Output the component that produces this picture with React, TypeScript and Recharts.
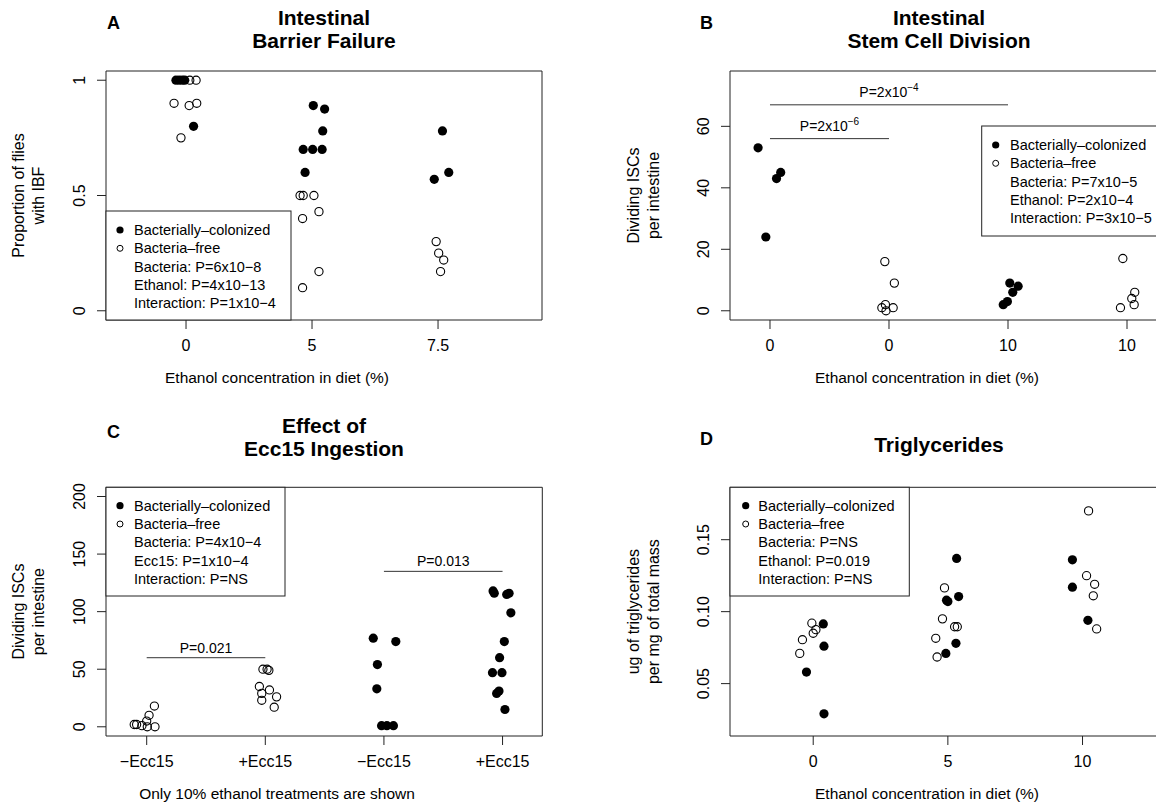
import React from 'react';
import { ScatterChart, Scatter, XAxis, YAxis, ReferenceArea, ReferenceLine } from 'recharts';

const FONT = '"Liberation Sans", Arial, Helvetica, sans-serif';

// values: [x = group position + jitter, y]
// A: intestinal barrier failure (proportion of flies with IBF)
const ibfColonized = [
  [0.92, 1], [0.945, 1], [0.97, 1], [0.99, 1], [1.06, 0.8],
  [2.01, 0.89], [2.1, 0.875], [2.085, 0.78], [1.93, 0.7], [2.005, 0.7], [2.08, 0.7], [1.945, 0.6],
  [3.035, 0.78], [3.085, 0.6], [2.97, 0.57],
];
const ibfFree = [
  [1.03, 1], [1.08, 1], [0.905, 0.9], [1.025, 0.89], [1.085, 0.9], [0.96, 0.75],
  [1.905, 0.5], [1.93, 0.5], [2.015, 0.5], [2.055, 0.43], [1.925, 0.4], [2.055, 0.17], [1.925, 0.1],
  [2.985, 0.3], [3.005, 0.25], [3.045, 0.22], [3.02, 0.17],
];

// B: dividing ISCs per intestine
const iscColonized = [
  [0.9, 53], [1.055, 43], [1.09, 45], [0.965, 24],
  [3.015, 9], [3.085, 8], [3.04, 6], [2.995, 3], [2.96, 2],
];
const iscFree = [
  [1.965, 16], [2.045, 9], [1.94, 1], [1.97, 2], [1.975, 0], [2.035, 1],
  [3.965, 17], [4.065, 6], [4.04, 4], [4.06, 2], [3.945, 1],
];

// C: effect of Ecc15 ingestion
const eccFree = [
  [0.895, 2], [0.915, 2], [0.96, 1], [1.005, 0], [1.07, 0], [1.0, 5], [1.02, 10], [1.065, 18],
  [1.98, 50], [2.015, 50], [2.03, 49], [1.95, 35], [2.035, 32], [1.97, 29], [2.095, 26], [1.97, 23], [2.075, 17],
];
const eccColonized = [
  [2.91, 77], [3.1, 74], [2.945, 54], [2.94, 33], [2.98, 1], [3.025, 1], [3.08, 1],
  [3.92, 118], [3.93, 116], [4.035, 115], [4.055, 116], [4.07, 99], [4.015, 74], [3.975, 60],
  [3.915, 47], [3.995, 47], [3.95, 29], [3.97, 31], [4.02, 15],
];

// D: triglycerides
const tgFree = [
  [0.99, 0.092], [1.0, 0.085], [1.02, 0.0875], [0.92, 0.0805], [0.9, 0.071],
  [1.975, 0.1165], [1.96, 0.095], [2.05, 0.0895], [2.07, 0.0895], [1.91, 0.0815], [1.92, 0.0685],
  [3.045, 0.17], [3.03, 0.125], [3.09, 0.119], [3.08, 0.111], [3.105, 0.088],
];
const tgColonized = [
  [1.075, 0.0915], [1.08, 0.076], [0.95, 0.058], [1.08, 0.029],
  [2.065, 0.137], [2.08, 0.1105], [2.0, 0.107], [1.99, 0.108], [2.06, 0.078], [1.985, 0.071],
  [2.925, 0.136], [2.925, 0.117], [3.04, 0.094],
];

const ethanolLabelsA = ['0', '5', '7.5'];
const ethanolLabelsB = ['0', '0', '10', '10'];
const eccLabels = ['\u2212Ecc15', '+Ecc15', '\u2212Ecc15', '+Ecc15'];
const ethanolLabelsD = ['0', '5', '10'];

const statsA = ['Bacteria: P=6x10\u22128', 'Ethanol: P=4x10\u221213', 'Interaction: P=1x10\u22124'];
const statsB = ['Bacteria: P=7x10\u22125', 'Ethanol: P=2x10\u22124', 'Interaction: P=3x10\u22125'];
const statsC = ['Bacteria: P=4x10\u22124', 'Ecc15: P=1x10\u22124', 'Interaction: P=NS'];
const statsD = ['Bacteria: P=NS', 'Ethanol: P=0.019', 'Interaction: P=NS'];

const toPoints = (arr: number[][]) => arr.map(([x, y]) => ({ x, y }));

const filledDot = (p: any) => <circle cx={p.cx} cy={p.cy} r={4.6} fill="#000" />;
const openDot = (p: any) => <circle cx={p.cx} cy={p.cy} r={4.1} fill="none" stroke="#000" strokeWidth={1.1} />;

const XTick = (props: any) => {
  const { x, payload, labels, ticks, base } = props;
  const i = ticks.indexOf(payload.value);
  return (
    <text x={x} y={base} textAnchor="middle" fontSize={16} fontFamily={FONT} fill="#000">
      {labels[i]}
    </text>
  );
};

const YTick = (props: any) => {
  const { y, payload, labels, ticks, base } = props;
  const i = ticks.indexOf(payload.value);
  return (
    <text x={base} y={y} transform={`rotate(-90 ${base} ${y})`} textAnchor="middle" fontSize={16} fontFamily={FONT} fill="#000">
      {labels[i]}
    </text>
  );
};

const PLabel = (props: any) => {
  const { viewBox, text, sup, gap } = props;
  return (
    <text x={viewBox.x + viewBox.width / 2} y={viewBox.y - gap} textAnchor="middle" fontSize={14} fontFamily={FONT} fill="#000">
      {text}
      {sup && <tspan dy={-6} fontSize={10}>{sup}</tspan>}
    </text>
  );
};

type Bracket = { x1: number; x2: number; y: number; text: string; sup?: string; gap: number };

const Panel = ({ left, top, width, height, plot, xDomain, yDomain, xTicks, xLabels, yTicks, yLabels, filled, open, brackets }: any) => {
  const AX = 30;
  return (
    <div style={{ position: 'absolute', left, top }}>
      <ScatterChart
        width={width}
        height={height}
        margin={{ top: plot.top, left: plot.left - AX, right: width - plot.right, bottom: height - plot.bottom - AX }}
      >
        <XAxis
          type="number"
          dataKey="x"
          domain={xDomain}
          ticks={xTicks}
          interval={0}
          height={AX}
          axisLine={false}
          tickSize={9}
          tickLine={{ stroke: '#222' }}
          tick={<XTick labels={xLabels} ticks={xTicks} base={plot.bottom + 31} />}
          allowDataOverflow
        />
        <YAxis
          type="number"
          dataKey="y"
          domain={yDomain}
          ticks={yTicks}
          interval={0}
          width={AX}
          axisLine={false}
          tickSize={9}
          tickLine={{ stroke: '#222' }}
          tick={<YTick labels={yLabels} ticks={yTicks} base={plot.left - 21} />}
          allowDataOverflow
        />
        <ReferenceArea x1={xDomain[0]} x2={xDomain[1]} y1={yDomain[0]} y2={yDomain[1]} fill="none" stroke="#222" strokeWidth={1} ifOverflow="visible" />
        {brackets.map((b: Bracket, i: number) => (
          <ReferenceLine
            key={i}
            segment={[{ x: b.x1, y: b.y }, { x: b.x2, y: b.y }]}
            stroke="#333"
            strokeWidth={1}
            label={<PLabel text={b.text} sup={b.sup} gap={b.gap} />}
          />
        ))}
        <Scatter data={toPoints(open)} shape={openDot} isAnimationActive={false} />
        <Scatter data={toPoints(filled)} shape={filledDot} isAnimationActive={false} />
      </ScatterChart>
    </div>
  );
};

const LegendBox = ({ x, y, w, h, mx, tx, row0, stats }: any) => {
  const rows = ['Bacterially\u2013colonized', 'Bacteria\u2013free', ...stats];
  return (
    <g>
      <rect x={x} y={y} width={w} height={h} fill="#fff" stroke="#222" strokeWidth={1} />
      <circle cx={mx} cy={row0} r={3.6} fill="#000" />
      <circle cx={mx} cy={row0 + 18.3} r={3} fill="none" stroke="#000" strokeWidth={1} />
      {rows.map((r, i) => (
        <text key={i} x={tx} y={row0 + i * 18.3 + 5} fontSize={14.5} fontFamily={FONT} fill="#000">{r}</text>
      ))}
    </g>
  );
};

const YTitle = ({ x, y, lines }: any) => (
  <g>
    {lines.map((l: string, i: number) => (
      <text key={i} x={x + i * 20} y={y} transform={`rotate(-90 ${x + i * 20} ${y})`} textAnchor="middle" fontSize={16} fontFamily={FONT} fill="#000">{l}</text>
    ))}
  </g>
);

const Title = ({ x, y, lines }: any) => (
  <g>
    {lines.map((l: string, i: number) => (
      <text key={i} x={x} y={y + i * 22.5} textAnchor="middle" fontSize={21} fontWeight="bold" fontFamily={FONT} fill="#000">{l}</text>
    ))}
  </g>
);

const App = () => {
  return (
    <div style={{ position: 'absolute', left: 0, top: 0, width: 1156, height: 807, overflow: 'hidden', background: '#fff' }}>
      <Panel
        left={0} top={0} width={580} height={400}
        plot={{ left: 106, top: 71, right: 542, bottom: 320 }}
        xDomain={[0.365, 3.825]} yDomain={[-0.04, 1.04]}
        xTicks={[1, 2, 3]} xLabels={ethanolLabelsA}
        yTicks={[0, 0.5, 1]} yLabels={['0', '0.5', '1']}
        filled={ibfColonized} open={ibfFree} brackets={[]}
      />
      <Panel
        left={600} top={0} width={600} height={400}
        plot={{ left: 130, top: 71, right: 567, bottom: 320 }}
        xDomain={[0.664, 4.336]} yDomain={[-3, 78]}
        xTicks={[1, 2, 3, 4]} xLabels={ethanolLabelsB}
        yTicks={[0, 20, 40, 60]} yLabels={['0', '20', '40', '60']}
        filled={iscColonized} open={iscFree}
        brackets={[
          { x1: 1, x2: 3, y: 67, text: 'P=2x10', sup: '\u22124', gap: 8 },
          { x1: 1, x2: 2, y: 56, text: 'P=2x10', sup: '\u22126', gap: 8 },
        ]}
      />
      <Panel
        left={0} top={400} width={580} height={420}
        plot={{ left: 106, top: 87.3, right: 542.3, bottom: 336 }}
        xDomain={[0.657, 4.335]} yDomain={[-8, 208]}
        xTicks={[1, 2, 3, 4]} xLabels={eccLabels}
        yTicks={[0, 50, 100, 150, 200]} yLabels={['0', '50', '100', '150', '200']}
        filled={eccColonized} open={eccFree}
        brackets={[
          { x1: 1, x2: 2, y: 60, text: 'P=0.021', gap: 5 },
          { x1: 3, x2: 4, y: 135, text: 'P=0.013', gap: 5 },
        ]}
      />
      <Panel
        left={600} top={400} width={600} height={420}
        plot={{ left: 130, top: 87.3, right: 566, bottom: 336 }}
        xDomain={[0.382, 3.62]} yDomain={[0.0136, 0.1864]}
        xTicks={[1, 2, 3]} xLabels={ethanolLabelsD}
        yTicks={[0.05, 0.1, 0.15]} yLabels={['0.05', '0.10', '0.15']}
        filled={tgColonized} open={tgFree} brackets={[]}
      />
      <svg width={1156} height={807} style={{ position: 'absolute', left: 0, top: 0, pointerEvents: 'none' }}>
        <text x={107} y={29} fontSize={18} fontWeight="bold" fontFamily={FONT}>A</text>
        <text x={700} y={29} fontSize={18} fontWeight="bold" fontFamily={FONT}>B</text>
        <text x={107} y={438} fontSize={18} fontWeight="bold" fontFamily={FONT}>C</text>
        <text x={700} y={445} fontSize={18} fontWeight="bold" fontFamily={FONT}>D</text>

        <Title x={324} y={25} lines={['Intestinal', 'Barrier Failure']} />
        <Title x={939} y={25} lines={['Intestinal', 'Stem Cell Division']} />
        <Title x={324} y={433} lines={['Effect of', 'Ecc15 Ingestion']} />
        <Title x={939} y={452} lines={['Triglycerides']} />

        <YTitle x={24} y={195.5} lines={['Proportion of flies', 'with IBF']} />
        <YTitle x={639} y={195.5} lines={['Dividing ISCs', 'per intestine']} />
        <YTitle x={24} y={611.6} lines={['Dividing ISCs', 'per intestine']} />
        <YTitle x={639} y={611.6} lines={['ug of triglycerides', 'per mg of total mass']} />

        <text x={277} y={383} textAnchor="middle" fontSize={15.5} fontFamily={FONT}>Ethanol concentration in diet (%)</text>
        <text x={927} y={383} textAnchor="middle" fontSize={15.5} fontFamily={FONT}>Ethanol concentration in diet (%)</text>
        <text x={277} y={799} textAnchor="middle" fontSize={15.5} fontFamily={FONT}>Only 10% ethanol treatments are shown</text>
        <text x={927} y={799} textAnchor="middle" fontSize={15.5} fontFamily={FONT}>Ethanol concentration in diet (%)</text>

        <LegendBox x={106} y={211} w={185} h={109} mx={120} tx={134} row0={230} stats={statsA} />
        <LegendBox x={981.7} y={126} w={186} h={110} mx={995.7} tx={1010} row0={145} stats={statsB} />
        <LegendBox x={106} y={487.3} w={179} h={108.7} mx={120} tx={134} row0={505.7} stats={statsC} />
        <LegendBox x={730} y={487.3} w={179.3} h={108.7} mx={745.7} tx={758.3} row0={505.7} stats={statsD} />
      </svg>
    </div>
  );
};

export default App;
